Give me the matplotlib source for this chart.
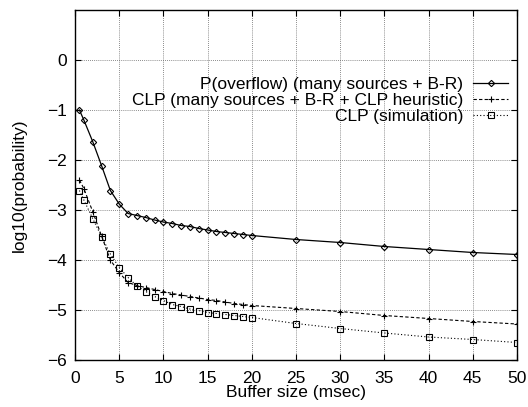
import matplotlib
matplotlib.use("Agg")
import matplotlib.pyplot as plt

plt.rcParams['font.family'] = ['Liberation Sans', 'DejaVu Sans']

# buffer sizes (msec)
buf = [0.5, 1, 2, 3, 4, 5, 6, 7, 8, 9, 10, 11, 12, 13, 14, 15, 16, 17, 18, 19, 20,
       25, 30, 35, 40, 45, 50]

# log10 of probabilities
p_overflow = [-1.00, -1.20, -1.63, -2.11, -2.61, -2.88, -3.07, -3.11, -3.15, -3.20, -3.24,
              -3.27, -3.31, -3.33, -3.37, -3.40, -3.43, -3.45, -3.47, -3.49, -3.51,
              -3.59, -3.65, -3.73, -3.79, -3.85, -3.89]
clp_heur = [-2.40, -2.57, -3.03, -3.52, -4.00, -4.25, -4.45, -4.51, -4.55, -4.59, -4.63,
            -4.67, -4.70, -4.73, -4.76, -4.79, -4.81, -4.84, -4.87, -4.89, -4.91,
            -4.97, -5.03, -5.11, -5.17, -5.23, -5.28]
clp_sim = [-2.61, -2.80, -3.17, -3.53, -3.88, -4.15, -4.35, -4.52, -4.63, -4.73, -4.81,
           -4.89, -4.93, -4.98, -5.01, -5.05, -5.07, -5.09, -5.11, -5.13, -5.15,
           -5.27, -5.37, -5.46, -5.54, -5.59, -5.65]

labels = ["P(overflow) (many sources + B-R)",
          "CLP (many sources + B-R + CLP heuristic)",
          "CLP (simulation)"]

fs = 12.5

fig = plt.figure(figsize=(5.28, 4.07), dpi=100)
ax = fig.add_axes([75/528, 47/407, 442/528, 350/407])

ax.plot(buf, p_overflow, color='black', lw=0.9, ls='-', marker='D', ms=3.2,
        mfc='none', mew=0.8, label=labels[0])
ax.plot(buf, clp_heur, color='black', lw=0.8, ls=(0, (3, 2)), marker='+', ms=5,
        mew=0.8, label=labels[1])
ax.plot(buf, clp_sim, color='black', lw=0.8, ls=(0, (1, 2)), marker='s', ms=4.5,
        mfc='none', mew=0.8, label=labels[2])

ax.set_xlim(0, 50)
ax.set_ylim(-6, 1)
ax.set_xticks(range(0, 51, 5))
ax.set_yticks(range(-6, 1))
ax.tick_params(direction='in', top=True, right=True, labelsize=fs, length=4)
ax.tick_params(axis='x', pad=8)
ax.tick_params(axis='y', pad=6)
ax.grid(True, color='#666666', ls=(0, (1, 1.5)), lw=0.6)
for s in ax.spines.values():
    s.set_linewidth(1.0)

ax.set_xlabel("Buffer size (msec)", fontsize=fs, labelpad=-1)
ax.set_ylabel("log10(probability)", fontsize=fs, labelpad=14)

ax.legend(loc='upper right', bbox_to_anchor=(0.98, 0.81), frameon=False,
          markerfirst=False, fontsize=fs, handlelength=2.0, handletextpad=0.6,
          labelspacing=0.05, borderpad=0, borderaxespad=0)

fig.savefig("out.png", dpi=100)
